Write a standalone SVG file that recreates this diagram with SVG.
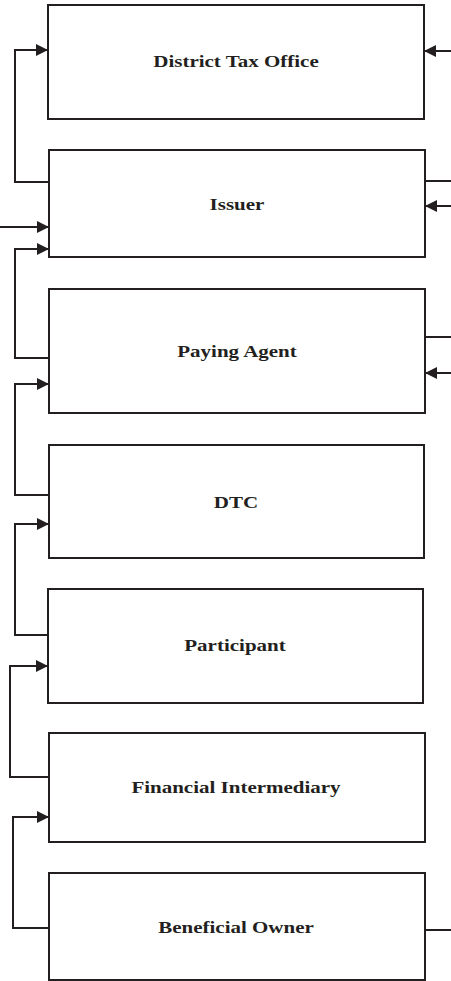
<svg xmlns="http://www.w3.org/2000/svg" width="451" height="981" viewBox="0 0 451 981">
<style>
.box{fill:#fff;stroke:#231f20;stroke-width:2}
.lbl{font-family:"Liberation Serif","Times New Roman",serif;font-weight:bold;font-size:21px;fill:#231f20;text-anchor:middle}
.c{fill:none;stroke:#231f20;stroke-width:2}
</style>
<defs>
<marker id="ah" markerUnits="userSpaceOnUse" markerWidth="12" markerHeight="12" refX="12" refY="6" orient="auto">
<path d="M0,0 L12,6 L0,12 z" fill="#231f20"/>
</marker>
</defs>
<rect width="451" height="981" fill="#fff"/>
<g id="connectors">
<path class="c" d="M49,182 H15 V50 H48" marker-end="url(#ah)"/>
<path class="c" d="M0,227 H49" marker-end="url(#ah)"/>
<path class="c" d="M49,358 H15 V249 H49" marker-end="url(#ah)"/>
<path class="c" d="M49,495 H15 V384 H49" marker-end="url(#ah)"/>
<path class="c" d="M48,635 H15 V524 H49" marker-end="url(#ah)"/>
<path class="c" d="M49,777 H10 V666 H48" marker-end="url(#ah)"/>
<path class="c" d="M49,928 H13 V817 H49" marker-end="url(#ah)"/>
<path class="c" d="M451,51 H424" marker-end="url(#ah)"/>
<path class="c" d="M425,181 H451"/>
<path class="c" d="M451,206 H425" marker-end="url(#ah)"/>
<path class="c" d="M425,337 H451"/>
<path class="c" d="M451,373 H425" marker-end="url(#ah)"/>
<path class="c" d="M425,930 H451"/>
</g>
<g id="district-tax-office"><rect class="box" x="48" y="5" width="376" height="114"/><text class="lbl" transform="translate(236,67) scale(1,0.84)">District Tax Office</text></g>
<g id="issuer"><rect class="box" x="49" y="150" width="376" height="107"/><text class="lbl" transform="translate(237,210) scale(1,0.84)">Issuer</text></g>
<g id="paying-agent"><rect class="box" x="49" y="289" width="376" height="124"/><text class="lbl" transform="translate(237,357) scale(1,0.84)">Paying Agent</text></g>
<g id="dtc"><rect class="box" x="49" y="445" width="375" height="113"/><text class="lbl" transform="translate(236,508) scale(1,0.84)">DTC</text></g>
<g id="participant"><rect class="box" x="48" y="589" width="375" height="114"/><text class="lbl" transform="translate(235,651) scale(1,0.84)">Participant</text></g>
<g id="financial-intermediary"><rect class="box" x="49" y="733" width="376" height="109"/><text class="lbl" transform="translate(236,793) scale(1,0.84)">Financial Intermediary</text></g>
<g id="beneficial-owner"><rect class="box" x="49" y="873" width="376" height="107"/><text class="lbl" transform="translate(236,933) scale(1,0.84)">Beneficial Owner</text></g>
</svg>
